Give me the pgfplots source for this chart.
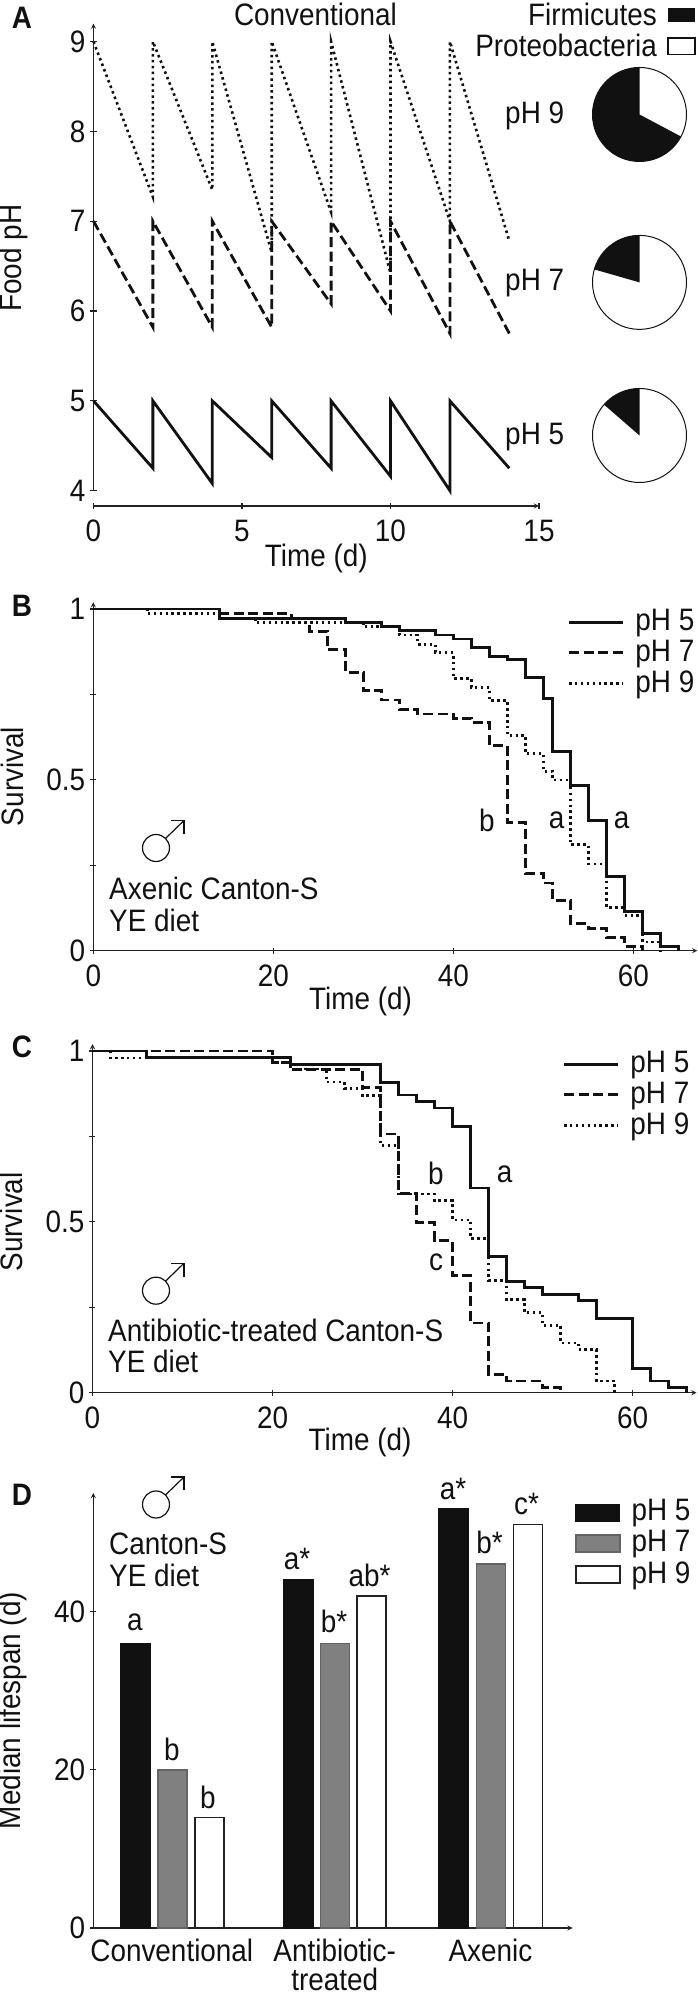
\documentclass[border=0pt]{standalone}
\usepackage{fontspec}
\setmainfont[FakeStretch=0.9]{Liberation Sans}
\usepackage{pgfplots}
\pgfplotsset{compat=1.18}
\definecolor{barblack}{HTML}{111111}
\definecolor{bargray}{HTML}{808080}
\definecolor{axisdk}{HTML}{222222}
\newcommand{\PX}[2]{({#1pt},{1994pt-#2pt})}
\newcommand{\T}[3]{\node[inner sep=0pt,text=barblack] at \PX{#1}{#2} {#3};}
\newcommand{\Male}[2]{%
  \draw[line width=1.2pt,barblack] \PX{#1}{#2} circle[radius=13.5pt];
  \draw[line width=1.2pt,barblack] ({#1pt+9.5pt},{1994pt-#2pt+9.5pt}) -- ({#1pt+28pt},{1994pt-#2pt+27.5pt});
  \draw[line width=1.2pt,barblack] ({#1pt+15pt},{1994pt-#2pt+27.5pt}) -- ({#1pt+28pt},{1994pt-#2pt+27.5pt}) -- ({#1pt+28pt},{1994pt-#2pt+14pt});}
\newcommand{\Pie}[3]{%
  \draw[line width=1pt,barblack,fill=white] \PX{#1}{#2} circle[radius=47pt];
  \fill[barblack] \PX{#1}{#2} -- ({#1pt},{1994pt-#2pt+47pt}) arc[start angle=90,delta angle=#3,radius=47pt] -- cycle;}
\pgfplotsset{
  common/.style={
    scale only axis, clip=false,
    axis line style={-,line width=1.3pt,color=axisdk},
    tick style={line width=1.2pt,color=axisdk},
    major tick length=6pt, tick align=outside,
    every tick label/.append style={inner sep=2pt,text=barblack},
    xticklabel style={yshift=-8.5pt},
    yticklabel style={xshift=-3pt},
    /pgf/number format/assume math mode=true,
    label style={text=barblack},
  },
  s5/.style={line width=2.8pt,barblack,line join=miter,no marks},
  s7/.style={line width=2.8pt,barblack,dash pattern=on 10pt off 4.5pt,no marks},
  s9/.style={line width=2.6pt,barblack,dash pattern=on 2.5pt off 3.4pt,no marks},
  boxleg/.style={legend image code/.code={\draw[##1] (0pt,-8.5pt) rectangle (44pt,8.5pt);}},
  linelegend/.style={
    legend image code/.code={\draw[##1] (0pt,0pt) -- (54pt,0pt);},
    legend cell align=left,
    legend style={draw=none,fill=none,inner sep=0pt,row sep=0.6pt,anchor=north west,
      nodes={inner sep=2pt,text=barblack},/tikz/every odd column/.append style={column sep=9pt}},
  },
  surv/.style={common,linelegend,width=604pt,height=348.5pt,
    xmin=0,xmax=67.1,ymin=0,ymax=1.02,
    axis x line=bottom,axis y line=left,
    xtick={0,20,40,60},ytick={0,0.25,0.5,0.75,1},yticklabels={0,,0.5,,1},
    xlabel={Time (d)},ylabel={Survival},
  },
}
\begin{document}
\fontsize{31}{31}\selectfont
\begin{tikzpicture}[x=1pt,y=1pt]
\path[use as bounding box] (0,0) rectangle (698pt,1994pt);

% ---------- Panel A
\begin{axis}[common,at={(93.5pt,1503.3pt)},anchor=south west,width=445.5pt,height=467.1pt,
  xmin=0,xmax=15,ymin=4,ymax=9.2,axis x line=none,axis y line=left,
  ytick={4,5,6,7,8,9},ylabel={Food pH},
  ylabel style={at={(axis description cs:-0.18,0.498)},anchor=center}]
\addplot[s9] coordinates {(0,9)(2,7.27)(2,9)(4,7.35)(4,9)(6,6.65)(6,9)(8,7.1)(8,9)(10,6.42)(10,9)(12,7.0)(12,9)(14,6.78)};
\addplot[s7] coordinates {(0,7)(2,5.82)(2,7)(4,5.82)(4,7)(6,5.82)(6,7)(8,6.08)(8,7)(10,6.0)(10,7)(12,5.75)(12,7)(14,5.75)};
\addplot[s5] coordinates {(0,5)(2,4.25)(2,5)(4,4.08)(4,5)(6,4.37)(6,5)(8,4.25)(8,5)(10,4.16)(10,5)(12,4.0)(12,5)(14,4.25)};
\end{axis}
\begin{axis}[common,at={(93.5pt,1488pt)},anchor=south west,width=445.5pt,height=1pt,
  xmin=0,xmax=15,ymin=0,ymax=1,axis x line=bottom,axis y line=none,
  xtick={0,5,10,15},xlabel={Time (d)},
  xlabel style={at={(axis description cs:0.5,0)},anchor=center,yshift=-52pt}]
\addplot[draw=none] coordinates {(0,0)};
\end{axis}
\T{315.5}{14.5}{Conventional}
\node[inner sep=0pt,anchor=east,text=barblack] at \PX{657}{14.5} {Firmicutes};
\node[inner sep=0pt,anchor=east,text=barblack] at \PX{657}{45} {Proteobacteria};
\fill[barblack] \PX{668}{8} rectangle \PX{695}{22.5};
\draw[line width=1.2pt,barblack,fill=white] \PX{668}{38} rectangle \PX{695}{54.5};
\T{534.7}{115.6}{pH 9}
\T{534.7}{283.5}{pH 7}
\T{534.7}{437}{pH 5}
\Pie{639.5}{114.5}{242}
\Pie{639.5}{282.4}{74}
\Pie{639.5}{435.5}{49}
\T{22}{18}{\bfseries A}

% ---------- Panel B
\begin{axis}[surv,at={(93.3pt,1043.3pt)},anchor=south west,
  ylabel style={at={(axis description cs:-0.134,0.5)},anchor=center},
  xlabel style={at={(axis description cs:0.4425,-0.146)},anchor=center},
  legend style={at={(axis description cs:0.785,0.986)}}]
\addplot[s5,const plot] coordinates {(0,1)(14,0.973)(28,0.961)(32,0.95)(34,0.9375)(38,0.924)(40,0.912)(42,0.887)(44,0.86)(46,0.852)(48,0.799)(50,0.737)(51,0.583)(53,0.484)(55,0.381)(57,0.216)(59,0.114)(61,0.051)(63,0.012)(65,0)};
\addplot[s7,const plot] coordinates {(0,1)(14,0.987)(22,0.973)(24,0.935)(26,0.882)(28,0.814)(30,0.761)(32,0.734)(34,0.706)(36,0.693)(40,0.68)(42,0.667)(44,0.601)(46,0.375)(48,0.227)(50,0.198)(51,0.146)(53,0.08)(55,0.065)(57,0.039)(59,0.012)(61,0)};
\addplot[s9,const plot] coordinates {(0,1)(6,0.987)(14,0.973)(18,0.961)(30,0.948)(34,0.924)(36,0.897)(38,0.872)(40,0.796)(42,0.77)(44,0.732)(46,0.63)(48,0.577)(50,0.525)(51,0.5)(53,0.31)(55,0.254)(57,0.127)(59,0.103)(61,0.026)(63,0)};
\legend{pH 5,pH 7,pH 9}
\end{axis}
\T{22}{606}{\bfseries B}
\Male{156}{848}
\node[inner sep=0pt,anchor=west,text=barblack] at \PX{109}{888} {Axenic Canton-S};
\node[inner sep=0pt,anchor=west,text=barblack] at \PX{109}{920} {YE diet};
\T{487}{820.5}{b}
\T{556.7}{820.7}{a}
\T{621.7}{820.7}{a}

% ---------- Panel C
\begin{axis}[surv,at={(92.5pt,601.3pt)},anchor=south west,
  ylabel style={at={(axis description cs:-0.134,0.49)},anchor=center},
  xlabel style={at={(axis description cs:0.443,-0.143)},anchor=center},
  legend style={at={(axis description cs:0.778,0.986)}}]
\addplot[s5,const plot] coordinates {(0,1)(6,0.98)(22,0.961)(32,0.908)(34,0.871)(36,0.852)(38,0.833)(40,0.778)(42,0.599)(44,0.398)(46,0.326)(48,0.307)(50,0.287)(54,0.27)(56,0.218)(60,0.07)(62,0.034)(64,0.015)(66,0)};
\addplot[s7,const plot] coordinates {(0,1)(20,0.966)(22,0.947)(30,0.893)(32,0.757)(34,0.583)(36,0.497)(38,0.445)(40,0.342)(42,0.204)(44,0.053)(46,0.034)(50,0.015)(52,0)};
\addplot[s9,const plot] coordinates {(0,1)(2,0.98)(20,0.966)(22,0.947)(26,0.909)(28,0.89)(30,0.869)(32,0.724)(34,0.581)(38,0.562)(40,0.506)(42,0.451)(44,0.328)(46,0.272)(48,0.234)(50,0.197)(52,0.146)(54,0.126)(56,0.034)(58,0)};
\legend{pH 5,pH 7,pH 9}
\end{axis}
\T{22}{1047}{\bfseries C}
\Male{156}{1290.7}
\node[inner sep=0pt,anchor=west,text=barblack] at \PX{108}{1330} {Antibiotic-treated Canton-S};
\node[inner sep=0pt,anchor=west,text=barblack] at \PX{108}{1361.7} {YE diet};
\T{436}{1173}{b}
\T{504.7}{1174}{a}
\T{436}{1262.7}{c}

% ---------- Panel D
\begin{axis}[common,at={(93.3pt,66pt)},anchor=south west,width=479.3pt,height=435pt,
  xmin=93.3,xmax=572.6,ymin=0,ymax=55,axis x line=bottom,axis y line=left,
  ytick={0,20,40},xtick={171.8,334.7,490.5},
  xticklabels={Conventional,{Antibiotic-\\[-2pt]treated},Axenic},
  xticklabel style={align=center,yshift=3pt},x tick style={draw=none},
  ylabel={Median lifespan (d)},
  ylabel style={at={(axis description cs:-0.168,0.5)},anchor=center},
  legend cell align=left,
  legend style={draw=none,fill=none,inner sep=0pt,row sep=1pt,anchor=north west,
    at={(axis description cs:1.005,0.99)},nodes={inner sep=2pt,text=barblack},
    /tikz/every odd column/.append style={column sep=9pt}}]
\addplot[ybar,bar width=30pt,bar shift=0pt,fill=barblack,draw=barblack,line width=1pt,boxleg]
  coordinates {(135.5,36)(298.1,44)(453.9,53)};
\addplot[ybar,bar width=29pt,bar shift=0pt,fill=bargray,draw=axisdk!70,line width=1.4pt,boxleg]
  coordinates {(172.5,20)(334.9,36)(490.7,46)};
\addplot[ybar,bar width=29pt,bar shift=0pt,fill=white,draw=axisdk,line width=1.4pt,boxleg]
  coordinates {(209.3,14)(371.5,42)(527.8,51)};
\legend{pH 5,pH 7,pH 9}
\end{axis}
\T{22}{1495}{\bfseries D}
\Male{156}{1504.5}
\node[inner sep=0pt,anchor=west,text=barblack] at \PX{109}{1544} {Canton-S};
\node[inner sep=0pt,anchor=west,text=barblack] at \PX{109}{1575.6} {YE diet};
\T{135}{1622}{a}
\T{172}{1749}{b}
\T{208}{1797}{b}
\T{297}{1559}{a*}
\T{334}{1621}{b*}
\T{369.5}{1575}{ab*}
\T{453}{1489}{a*}
\T{489.6}{1542}{b*}
\T{526.6}{1504}{c*}
\end{tikzpicture}
\end{document}
